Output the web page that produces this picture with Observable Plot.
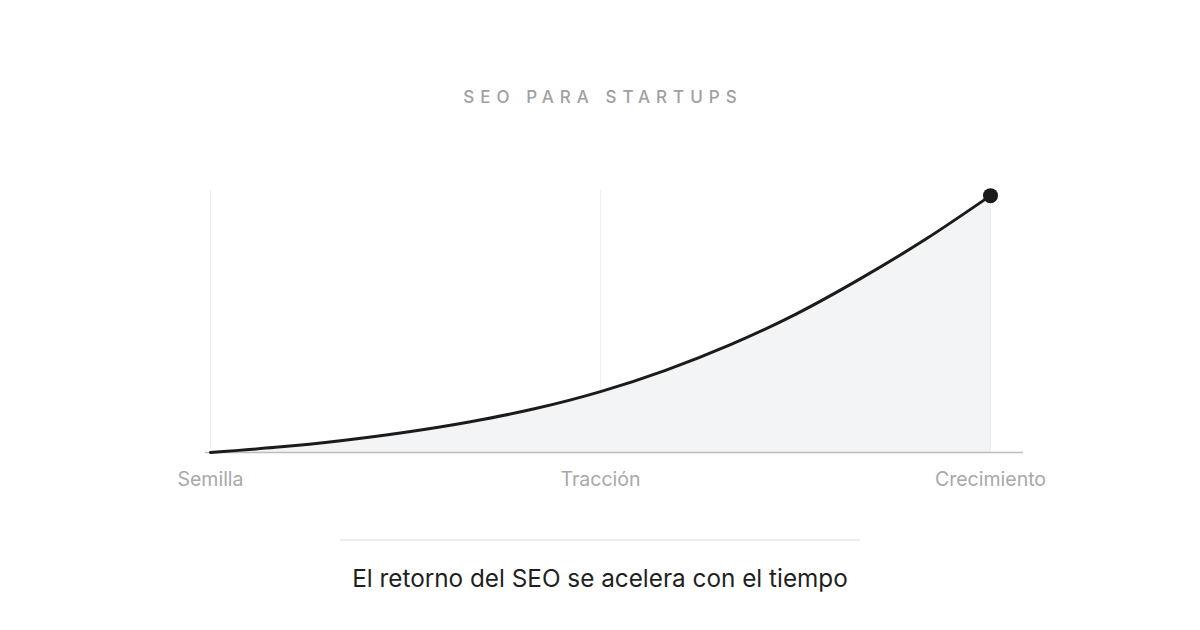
<!DOCTYPE html>
<html>
<head>
<meta charset="utf-8">
<script src="https://cdn.jsdelivr.net/npm/d3@7"></script>
<script src="https://cdn.jsdelivr.net/npm/@observablehq/plot@0.6"></script>
<style>
  html, body { margin: 0; padding: 0; background: #ffffff; }
  body { width: 1200px; height: 630px; overflow: hidden; font-family: Inter, "Noto Sans", sans-serif; }
  #title { height: 150px; box-sizing: border-box; padding-top: 87px; text-align: center;
    font-size: 17px; line-height: 20px; letter-spacing: 6px; padding-left: 6px; color: #a0a0a0; font-weight: 500; }
  #chart svg { display: block; }
  #divider { width: 520px; height: 0; border-top: 2px solid #ededed; margin: 39px auto 0 auto; }
  #caption { text-align: center; font-size: 24.3px; line-height: 30px; margin-top: 22px; color: #1f1f1f; }
</style>
</head>
<body>
<div id="title">SEO PARA STARTUPS</div>
<div id="chart"></div>
<div id="divider"></div>
<div id="caption">El retorno del SEO se acelera con el tiempo</div>
<script>
const months = [0, 1, 2, 3, 4, 5, 6, 7, 8, 9, 10, 11, 12];
const returns = [0, 2.0, 4.6, 7.9, 12.0, 17.1, 23.7, 32.0, 42.0, 53.8, 67.7, 83.0, 100];
const tickValues = [0, 6, 12];
const tickLabels = ["Semilla", "Tracción", "Crecimiento"];

const data = months.map((m, i) => ({month: m, value: returns[i]}));
const last = [data[data.length - 1]];
const fmt = d => tickLabels[tickValues.indexOf(d)];

const chart = Plot.plot({
  width: 1200,
  height: 350,
  marginLeft: 205,
  marginRight: 177,
  marginTop: 40,
  marginBottom: 48,
  style: {fontFamily: "Inter, 'Noto Sans', sans-serif", fontSize: "19.5px", color: "#a8a8a8", background: "transparent"},
  x: {domain: [0, 12], range: [210, 990], label: null},
  y: {domain: [0, 102], axis: null},
  marks: [
    Plot.ruleX(tickValues, {stroke: "#eeeeee", strokeWidth: 1.2}),
    Plot.areaY(data, {x: "month", y: "value", fill: "#f3f4f5", curve: "monotone-x"}),
    Plot.ruleY([0], {stroke: "#bdbdbd", strokeWidth: 1.6}),
    Plot.lineY(data, {x: "month", y: "value", stroke: "#1b1b1b", strokeWidth: 3, curve: "monotone-x"}),
    Plot.dot(last, {x: "month", y: "value", r: 7.5, fill: "#1b1b1b", stroke: "none"}),
    Plot.axisX({ticks: tickValues, tickFormat: fmt, tickSize: 0, tickPadding: 20, label: null, fill: "#a8a8a8"})
  ]
});
document.getElementById("chart").appendChild(chart);
</script>
</body>
</html>
